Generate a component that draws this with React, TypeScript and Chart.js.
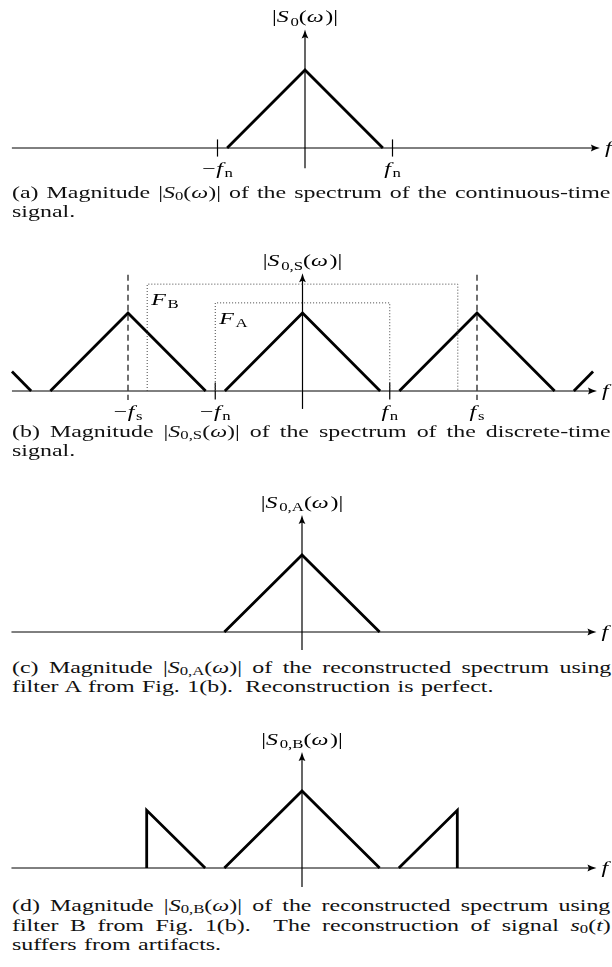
import React, { useEffect, useLayoutEffect, useRef } from "react";
import { Chart, registerables } from "chart.js";

Chart.register(...registerables);

type Pt = { x: number; y: number };
type Run = { t: string; it?: boolean; sub?: boolean };

// Frequencies are given in units of the Nyquist frequency f_n (f_s = 2 f_n),
// magnitudes relative to the spectral peak |S0(0)| = 1.
const FN = 1;
const FS = 2;

// |S0(ω)| – triangular baseband spectrum
const baseband: Pt[] = [
  { x: -0.89, y: 0 },
  { x: 0, y: 1 },
  { x: 0.89, y: 0 },
];

// |S0,S(ω)| – repetitions around 0, ±f_s and (cut by the axis) ±2f_s
const sampledSpectrum: Pt[][] = [
  [{ x: -3.33, y: 0.25 }, { x: -3.11, y: 0 }],
  [{ x: -2.89, y: 0 }, { x: -2, y: 1 }, { x: -1.11, y: 0 }],
  [{ x: -0.89, y: 0 }, { x: 0, y: 1 }, { x: 0.89, y: 0 }],
  [{ x: 1.11, y: 0 }, { x: 2, y: 1 }, { x: 2.89, y: 0 }],
  [{ x: 3.11, y: 0 }, { x: 3.33, y: 0.25 }],
];

// Reconstruction filter outlines
const filterA: Pt[] = [
  { x: -1, y: 0 },
  { x: -1, y: 1.13 },
  { x: 1, y: 1.13 },
  { x: 1, y: 0 },
];
const filterB: Pt[] = [
  { x: -1.78, y: 0 },
  { x: -1.78, y: 1.37 },
  { x: 1.78, y: 1.37 },
  { x: 1.78, y: 0 },
];

// Dashed markers at ±f_s
const fsMarkers: Pt[][] = [
  [{ x: -FS, y: 1.49 }, { x: -FS, y: -0.115 }],
  [{ x: FS, y: 1.49 }, { x: FS, y: -0.115 }],
];

// Small ticks at ±f_n
const fnTicks: Pt[][] = [
  [{ x: -FN, y: -0.11 }, { x: -FN, y: 0.11 }],
  [{ x: FN, y: -0.11 }, { x: FN, y: 0.11 }],
];

// |S0,B(ω)| – filter B lets parts of the neighbouring images through
const reconstructedB: Pt[][] = [
  [{ x: -1.78, y: 0 }, { x: -1.78, y: 0.75 }, { x: -1.11, y: 0 }],
  [{ x: -0.89, y: 0 }, { x: 0, y: 1 }, { x: 0.89, y: 0 }],
  [{ x: 1.11, y: 0 }, { x: 1.78, y: 0.75 }, { x: 1.78, y: 0 }],
];

// Text pieces
const negFn: Run[] = [{ t: "−" }, { t: "f", it: true }, { t: "n", sub: true }];
const posFn: Run[] = [{ t: "f", it: true }, { t: "n", sub: true }];
const negFs: Run[] = [{ t: "−" }, { t: "f", it: true }, { t: "s", sub: true }];
const posFs: Run[] = [{ t: "f", it: true }, { t: "s", sub: true }];
const freqSymbol: Run[] = [{ t: "f", it: true }];

const magLabel = (sub: Run[]): Run[] => [
  { t: "|" },
  { t: "S", it: true },
  ...sub,
  { t: "(" },
  { t: "ω", it: true },
  { t: ")" },
  { t: "|" },
];
const labelA0: Run[] = magLabel([{ t: "0", sub: true }]);
const labelS: Run[] = magLabel([{ t: "0,S", sub: true }]);
const labelRA: Run[] = magLabel([{ t: "0,A", sub: true }]);
const labelRB: Run[] = magLabel([{ t: "0,B", sub: true }]);
const labelFA: Run[] = [{ t: "F", it: true }, { t: "A", sub: true }];
const labelFB: Run[] = [{ t: "F", it: true }, { t: "B", sub: true }];

const FONT = '"Liberation Serif", "Times New Roman", serif';
const SIZE = 16.5;
const SX = 1.45;

type Series = { data: Pt[]; width: number; dash?: number[]; color?: string };
type TickText = { x: number; runs: Run[] };
type Note = { x: number; y: number; runs: Run[] };

type Panel = {
  top: number;
  height: number;
  x0: number;
  y0: number;
  kx: number;
  ky: number;
  axisX: [number, number];
  axisY: [number, number];
  yLabel: Run[];
  series: Series[];
  tickTexts: TickText[];
  notes: Note[];
};

const thick = (data: Pt[]): Series => ({ data, width: 2.8 });

const panels: Panel[] = [
  {
    top: 0,
    height: 185,
    x0: 305,
    y0: 148,
    kx: 87.5,
    ky: 78,
    axisX: [-3.35, 3.37],
    axisY: [-0.26, 1.52],
    yLabel: labelA0,
    series: [
      ...fnTicks.map((d) => ({ data: d, width: 1.2 })),
      thick(baseband),
    ],
    tickTexts: [
      { x: -FN, runs: negFn },
      { x: FN, runs: posFn },
    ],
    notes: [],
  },
  {
    top: 235,
    height: 190,
    x0: 302.5,
    y0: 391,
    kx: 87.25,
    ky: 78,
    axisX: [-3.33, 3.375],
    axisY: [-0.23, 1.51],
    yLabel: labelS,
    series: [
      { data: filterB, width: 1, dash: [1, 2], color: "#444" },
      { data: filterA, width: 1, dash: [1, 2], color: "#444" },
      ...fsMarkers.map((d) => ({ data: d, width: 1.2, dash: [6, 4], color: "#111" })),
      ...fnTicks.map((d) => ({ data: d, width: 1.2 })),
      ...sampledSpectrum.map(thick),
    ],
    tickTexts: [
      { x: -FS, runs: negFs },
      { x: -FN, runs: negFn },
      { x: FN, runs: posFn },
      { x: FS, runs: posFs },
    ],
    notes: [
      { x: -1.78, y: 1.37, runs: labelFB },
      { x: -1, y: 1.13, runs: labelFA },
    ],
  },
  {
    top: 485,
    height: 170,
    x0: 302,
    y0: 632,
    kx: 87.25,
    ky: 77,
    axisX: [-3.33, 3.375],
    axisY: [-0.234, 1.52],
    yLabel: labelRA,
    series: [thick(baseband)],
    tickTexts: [],
    notes: [],
  },
  {
    top: 720,
    height: 172,
    x0: 302,
    y0: 868,
    kx: 87.25,
    ky: 77,
    axisX: [-3.33, 3.375],
    axisY: [-0.247, 1.506],
    yLabel: labelRB,
    series: reconstructedB.map(thick),
    tickTexts: [],
    notes: [],
  },
];

function fontFor(r: Run) {
  const s = r.sub ? SIZE * 0.7 : SIZE;
  return `${r.it ? "italic " : ""}${s}px ${FONT}`;
}

function advance(ctx: CanvasRenderingContext2D, r: Run) {
  ctx.font = fontFor(r);
  let w = ctx.measureText(r.t).width;
  if (r.it) w += SIZE * 0.07;
  if (r.t === "−") w += SIZE * 0.03;
  return w * SX;
}

function drawRuns(
  ctx: CanvasRenderingContext2D,
  runs: Run[],
  x: number,
  baseline: number,
  align: "left" | "center"
) {
  let total = 0;
  for (const r of runs) total += advance(ctx, r);
  let cx = align === "center" ? x - total / 2 : x;
  ctx.save();
  ctx.fillStyle = "#000";
  ctx.textAlign = "left";
  ctx.textBaseline = "alphabetic";
  for (const r of runs) {
    ctx.font = fontFor(r);
    ctx.save();
    ctx.translate(cx, baseline + (r.sub ? SIZE * 0.2 : 0));
    ctx.scale(SX, 1);
    ctx.fillText(r.t, 0, 0);
    ctx.restore();
    cx += advance(ctx, r);
  }
  ctx.restore();
}

function arrowHead(
  ctx: CanvasRenderingContext2D,
  x: number,
  y: number,
  dir: "right" | "up"
) {
  const len = 9;
  const half = 3.4;
  ctx.save();
  ctx.translate(x, y);
  if (dir === "up") ctx.rotate(-Math.PI / 2);
  ctx.beginPath();
  ctx.moveTo(0, 0);
  ctx.quadraticCurveTo(-len * 0.55, -half * 0.35, -len, -half);
  ctx.lineTo(-len * 0.85, 0);
  ctx.lineTo(-len, half);
  ctx.quadraticCurveTo(-len * 0.55, half * 0.35, 0, 0);
  ctx.closePath();
  ctx.fillStyle = "#000";
  ctx.fill();
  ctx.restore();
}

function PanelChart({ panel }: { panel: Panel }) {
  const ref = useRef<HTMLCanvasElement>(null);

  useEffect(() => {
    const canvas = ref.current;
    if (!canvas) return;
    const p = panel;
    const W = 612;
    const xMin = (0 - p.x0) / p.kx;
    const xMax = (W - p.x0) / p.kx;
    const yMax = (p.y0 - p.top) / p.ky;
    const yMin = (p.y0 - (p.top + p.height)) / p.ky;

    const decor = {
      id: "spectrumDecor",
      beforeDatasetsDraw(chart: Chart) {
        const ctx = chart.ctx;
        const sx = chart.scales.x;
        const sy = chart.scales.y;
        const X = (v: number) => sx.getPixelForValue(v);
        const Y = (v: number) => sy.getPixelForValue(v);
        ctx.save();
        ctx.strokeStyle = "#000";
        ctx.lineWidth = 1;
        // frequency axis
        ctx.beginPath();
        ctx.moveTo(X(p.axisX[0]), Y(0));
        ctx.lineTo(X(p.axisX[1]) - 6, Y(0));
        ctx.stroke();
        arrowHead(ctx, X(p.axisX[1]), Y(0), "right");
        // magnitude axis
        ctx.lineWidth = 1.2;
        ctx.beginPath();
        ctx.moveTo(X(0), Y(p.axisY[0]));
        ctx.lineTo(X(0), Y(p.axisY[1]) + 6);
        ctx.stroke();
        arrowHead(ctx, X(0), Y(p.axisY[1]), "up");
        ctx.restore();
      },
      afterDatasetsDraw(chart: Chart) {
        const ctx = chart.ctx;
        const sx = chart.scales.x;
        const sy = chart.scales.y;
        const X = (v: number) => sx.getPixelForValue(v);
        const Y = (v: number) => sy.getPixelForValue(v);
        drawRuns(ctx, p.yLabel, X(0), Y(p.axisY[1]) - 7, "center");
        drawRuns(ctx, freqSymbol, X(p.axisX[1]) + 5, Y(0) + 5, "left");
        for (const t of p.tickTexts) {
          drawRuns(ctx, t.runs, X(t.x), Y(0) + 26, "center");
        }
        for (const n of p.notes) {
          drawRuns(ctx, n.runs, X(n.x) + 4, Y(n.y) + 21, "left");
        }
      },
    };

    const chart = new Chart(canvas, {
      type: "scatter",
      data: {
        datasets: p.series.map((s) => ({
          data: s.data,
          showLine: true,
          borderColor: s.color ?? "#000",
          borderWidth: s.width,
          borderDash: s.dash ?? [],
          pointRadius: 0,
          pointHoverRadius: 0,
          fill: false,
          tension: 0,
          clip: false as any,
        })),
      },
      options: {
        animation: false,
        responsive: false,
        maintainAspectRatio: false,
        devicePixelRatio: 1,
        events: [],
        layout: { padding: 0 },
        plugins: {
          legend: { display: false },
          tooltip: { enabled: false },
        },
        scales: {
          x: { type: "linear", min: xMin, max: xMax, display: false },
          y: { type: "linear", min: yMin, max: yMax, display: false },
        },
      },
      plugins: [decor as any],
    });
    return () => chart.destroy();
  }, [panel]);

  return (
    <canvas
      ref={ref}
      width={612}
      height={panel.height}
      style={{
        position: "absolute",
        left: 0,
        top: panel.top,
        width: 612,
        height: panel.height,
      }}
    />
  );
}

const CAP_LEFT = 12;
const CAP_WIDTH = 599;

const Sub = ({ children }: { children: React.ReactNode }) => (
  <span style={{ fontSize: "0.7em", position: "relative", top: "0.22em" }}>
    {children}
  </span>
);

const Mag = ({ sub }: { sub: string }) => (
  <span>
    |<i>S</i>
    <Sub>{sub}</Sub>(<i>ω</i>)|
  </span>
);

// One caption line; full lines are stretched to the column width via word spacing
function CaptionLine({
  top,
  justify,
  children,
}: {
  top: number;
  justify?: boolean;
  children: React.ReactNode;
}) {
  const ref = useRef<HTMLSpanElement>(null);
  useLayoutEffect(() => {
    if (!justify) return;
    const fit = () => {
      const el = ref.current;
      if (!el) return;
      el.style.wordSpacing = "0px";
      const natural = el.offsetWidth;
      const gaps = ((el.textContent || "").match(/[ \u00a0]/g) || []).length;
      if (gaps > 0) {
        el.style.wordSpacing = `${(CAP_WIDTH / SX - natural) / gaps}px`;
      }
    };
    fit();
    if ((document as any).fonts?.ready) (document as any).fonts.ready.then(fit);
  }, [justify]);

  return (
    <div
      style={{
        position: "absolute",
        left: CAP_LEFT,
        top,
        height: 20,
        lineHeight: "20px",
        fontFamily: FONT,
        fontSize: SIZE,
        color: "#111",
        whiteSpace: "nowrap",
        transform: `scaleX(${SX})`,
        transformOrigin: "0 0",
      }}
    >
      <span ref={ref} style={{ wordSpacing: justify ? undefined : "1px" }}>
        {children}
      </span>
    </div>
  );
}

export default function App() {
  return (
    <div
      style={{
        position: "absolute",
        left: 0,
        top: 0,
        width: 612,
        height: 967,
        background: "#fff",
        overflow: "hidden",
      }}
    >
      {panels.map((p, i) => (
        <PanelChart key={i} panel={p} />
      ))}

      <CaptionLine top={182.5} justify>
        (a) Magnitude <Mag sub="0" /> of the spectrum of the continuous-time
      </CaptionLine>
      <CaptionLine top={201.5}>signal.</CaptionLine>

      <CaptionLine top={421.5} justify>
        (b) Magnitude <Mag sub="0,S" /> of the spectrum of the discrete-time
      </CaptionLine>
      <CaptionLine top={440.5}>signal.</CaptionLine>

      <CaptionLine top={657.5} justify>
        (c) Magnitude <Mag sub="0,A" /> of the reconstructed spectrum using
      </CaptionLine>
      <CaptionLine top={677}>
        filter A from Fig. 1(b).{"\u2009"} Reconstruction is perfect.
      </CaptionLine>

      <CaptionLine top={895.5} justify>
        (d) Magnitude <Mag sub="0,B" /> of the reconstructed spectrum using
      </CaptionLine>
      <CaptionLine top={915.5} justify>
        filter B from Fig. 1(b).{"\u00a0"} The reconstruction of signal{" "}
        <span>
          <i>s</i>
          <Sub>0</Sub>(<i>t</i>)
        </span>
      </CaptionLine>
      <CaptionLine top={935}>suffers from artifacts.</CaptionLine>
    </div>
  );
}
